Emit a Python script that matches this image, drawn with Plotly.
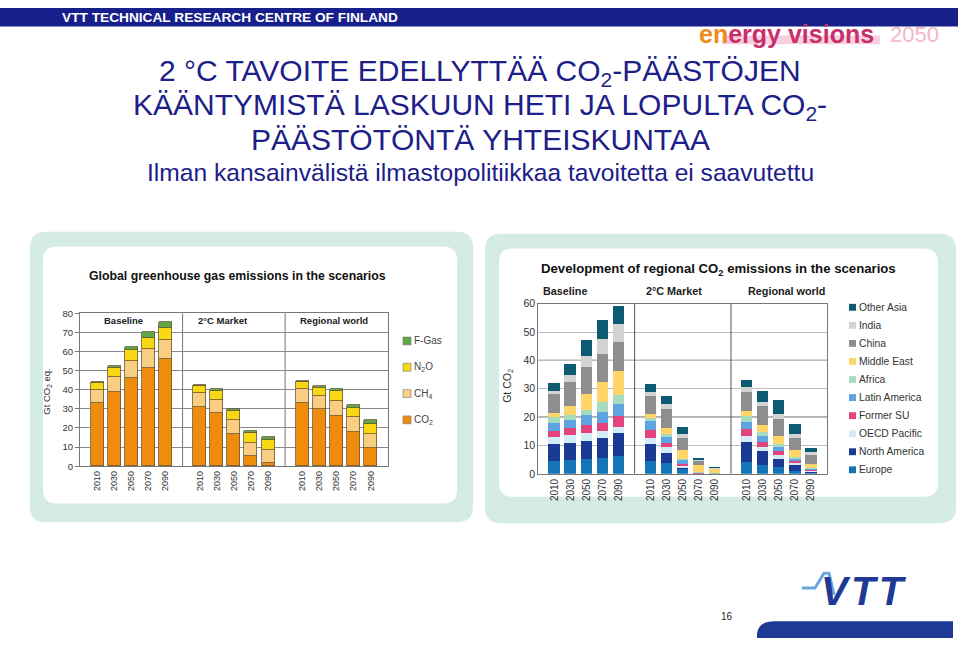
import plotly.graph_objects as go

# ---------------- data ----------------
scenarios = ["Baseline", "2°C Market", "Regional world"]
years = ["2010", "2030", "2050", "2070", "2090"]

# Left chart: global GHG emissions (Gt CO2 eq.)
ghg_names = ["CO<sub>2</sub>", "CH<sub>4</sub>", "N<sub>2</sub>O", "F-Gas"]
co2 = [33.0, 38.6, 46.0, 51.5, 56.0, 31.0, 27.8, 17.0, 5.2, 1.5, 33.2, 29.6, 26.0, 17.9, 9.4]
ch4 = [7.0, 8.1, 8.9, 9.7, 9.8, 7.0, 6.9, 7.0, 7.0, 6.7, 7.0, 6.8, 7.8, 7.7, 7.3]
n2o = [3.3, 4.4, 5.8, 5.6, 6.3, 3.6, 4.6, 5.0, 5.1, 5.5, 3.5, 4.4, 5.2, 4.8, 5.2]
fgas = [0.8, 1.2, 1.7, 3.3, 3.1, 0.9, 1.0, 1.0, 1.1, 1.3, 0.9, 1.1, 1.2, 1.6, 2.0]

# Right chart: regional CO2 emissions (Gt CO2), bottom to top
region_names = ["Europe", "North America", "OECD Pacific", "Former SU", "Latin America",
                "Africa", "Middle East", "China", "India", "Other Asia"]
europe = [4.6, 5.0, 5.3, 5.8, 6.3, 4.6, 3.8, 1.7, 0.2, 0.1, 4.4, 3.2, 2.5, 1.2, 0.5]
north_america = [6.0, 6.0, 6.5, 6.9, 8.1, 6.0, 3.7, 0.8, 0.1, 0.05, 6.9, 4.9, 3.0, 2.3, 0.6]
oecd_pacific = [2.4, 2.8, 2.6, 2.5, 2.3, 2.3, 2.0, 0.7, 0.1, 0.0, 2.2, 1.4, 1.4, 0.5, 0.3]
former_su = [2.2, 2.4, 3.1, 2.9, 3.7, 2.7, 1.5, 0.5, 0.1, 0.0, 2.4, 1.7, 1.2, 0.5, 0.2]
latin_america = [3.0, 3.0, 3.2, 3.8, 4.4, 3.1, 2.0, 1.4, 0.2, 0.1, 2.6, 2.1, 1.6, 1.0, 0.4]
africa = [1.9, 1.8, 2.0, 3.5, 3.1, 1.1, 1.1, 0.4, 0.1, 0.1, 2.0, 1.5, 0.9, 0.4, 0.3]
middle_east = [1.6, 3.2, 5.4, 7.1, 8.4, 1.5, 2.3, 2.9, 2.5, 1.6, 1.8, 2.7, 2.9, 2.7, 1.4]
china = [6.5, 8.3, 9.7, 10.0, 10.4, 6.4, 6.7, 4.3, 1.5, 0.2, 6.8, 6.5, 6.1, 4.2, 2.9]
india = [1.2, 2.3, 3.9, 5.2, 6.4, 1.4, 1.7, 1.5, 0.4, 0.2, 1.5, 1.6, 1.7, 1.5, 1.2]
other_asia = [2.9, 3.9, 5.6, 6.5, 6.3, 2.6, 2.9, 2.5, 0.3, 0.05, 2.6, 3.7, 5.0, 3.3, 1.4]

# ---------------- styling ----------------
FONT = "Liberation Sans, Arial, sans-serif"
NAVY = "#1c2088"
ghg_colors = ["#ef8c0c", "#f9cd82", "#f8d814", "#5fa84a"]
region_colors = ["#1574b8", "#1b3a94", "#d4ecf7", "#e2457e", "#5fa3e0",
                 "#a6dcc0", "#fdd56a", "#8e8e8e", "#d3d3d3", "#0d5a73"]
MINT = "#d5ece6"

W, H = 960, 645
def X(v): return v / W
def Y(v): return 1 - v / H

def rrect(x0, y0, x1, y1, r):
    return (f"M {X(x0+r)},{Y(y0)} L {X(x1-r)},{Y(y0)} Q {X(x1)},{Y(y0)} {X(x1)},{Y(y0+r)} "
            f"L {X(x1)},{Y(y1-r)} Q {X(x1)},{Y(y1)} {X(x1-r)},{Y(y1)} "
            f"L {X(x0+r)},{Y(y1)} Q {X(x0)},{Y(y1)} {X(x0)},{Y(y1-r)} "
            f"L {X(x0)},{Y(y0+r)} Q {X(x0)},{Y(y0)} {X(x0+r)},{Y(y0)} Z")

# bar positions: 6 slots per scenario group, bars in slots 1..5
xpos = [g * 6 + i + 1 for g in range(len(scenarios)) for i in range(len(years))]
ticktext = years * len(scenarios)

fig = go.Figure()

for vals, name, col in zip([co2, ch4, n2o, fgas], ghg_names, ghg_colors):
    fig.add_trace(go.Bar(x=xpos, y=vals, name=name, width=0.76, xaxis="x", yaxis="y",
                         marker=dict(color=col, line=dict(color="#6b5530", width=0.8)),
                         showlegend=False))

region_series = [europe, north_america, oecd_pacific, former_su, latin_america,
                 africa, middle_east, china, india, other_asia]
for vals, name, col in zip(region_series, region_names, region_colors):
    fig.add_trace(go.Bar(x=xpos, y=vals, name=name, width=0.7, xaxis="x2", yaxis="y2",
                         marker=dict(color=col, line=dict(width=0)),
                         showlegend=False))

shapes = []
annotations = []

# panels
shapes.append(dict(type="path", path=rrect(30, 230, 473, 526, 16), xref="paper", yref="paper",
                   fillcolor=MINT, line=dict(width=0), layer="below"))
shapes.append(dict(type="path", path=rrect(43, 245, 457, 507, 14), xref="paper", yref="paper",
                   fillcolor="white", line=dict(width=0), layer="below"))
shapes.append(dict(type="path", path=rrect(485, 232, 956, 527, 16), xref="paper", yref="paper",
                   fillcolor=MINT, line=dict(width=0), layer="below"))
shapes.append(dict(type="path", path=rrect(499, 247, 938, 500, 14), xref="paper", yref="paper",
                   fillcolor="white", line=dict(width=0), layer="below"))

# header bar
shapes.append(dict(type="rect", xref="paper", yref="paper", x0=0, x1=X(958), y0=Y(21), y1=Y(2),
                   fillcolor="#17208a", line=dict(width=0)))
annotations.append(dict(text="<b>VTT TECHNICAL RESEARCH CENTRE OF FINLAND</b>", x=X(60), y=Y(12),
                        xref="paper", yref="paper", xanchor="left", yanchor="middle", showarrow=False,
                        font=dict(family=FONT, size=13.7, color="white")))

# energy visions logo
shapes.append(dict(type="rect", xref="paper", yref="paper", x0=X(722), x1=X(880), y0=Y(39), y1=Y(30),
                   fillcolor="#f9cfdf", line=dict(width=0), layer="below"))
annotations.append(dict(text='<b><span style="color:#f08a1c">en</span><span style="color:#c8306a">ergy visions</span></b>',
                        x=X(697), y=Y(29), xref="paper", yref="paper", xanchor="left", yanchor="middle",
                        showarrow=False, font=dict(family=FONT, size=25)))
annotations.append(dict(text='2050', x=X(941), y=Y(29), xref="paper", yref="paper", xanchor="right",
                        yanchor="middle", showarrow=False, font=dict(family=FONT, size=22, color="#f3b6c8")))

# titles
title_lines = [
    ("2 °C TAVOITE EDELLYTTÄÄ CO<sub>2</sub>-PÄÄSTÖJEN", 68, 30),
    ("KÄÄNTYMISTÄ LASKUUN HETI JA LOPULTA CO<sub>2</sub>-", 102, 30),
    ("PÄÄSTÖTÖNTÄ YHTEISKUNTAA", 136, 30),
    ("Ilman kansainvälistä ilmastopolitiikkaa tavoitetta ei saavutettu", 170, 24.6),
]
for txt, yy, sz in title_lines:
    annotations.append(dict(text=txt, x=0.5, y=Y(yy), xref="paper", yref="paper", xanchor="center",
                            yanchor="middle", showarrow=False, font=dict(family=FONT, size=sz, color=NAVY)))

# chart titles
annotations.append(dict(text="<b>Global greenhouse gas emissions in the scenarios</b>", x=X(237.5), y=Y(275),
                        xref="paper", yref="paper", xanchor="center", yanchor="middle", showarrow=False,
                        font=dict(family=FONT, size=12.3, color="#111")))
annotations.append(dict(text="<b>Development of regional CO<sub>2</sub> emissions in the scenarios</b>",
                        x=X(718.5), y=Y(269), xref="paper", yref="paper", xanchor="center", yanchor="middle",
                        showarrow=False, font=dict(family=FONT, size=13.2, color="#111")))

# left scenario labels (inside plot top band)
for g, s in enumerate(scenarios):
    annotations.append(dict(text=f"<b>{s}</b>", x=[2.53, 8.36, 14.85][g], y=76.3, xref="x", yref="y",
                            xanchor="center", yanchor="middle", showarrow=False,
                            font=dict(family=FONT, size=9.5, color="#222")))
# right scenario labels (above plot)
for g, s in enumerate(scenarios):
    annotations.append(dict(text=f"<b>{s}</b>", x=X([541, 644, 745.5][g]), y=Y(290), xref="paper",
                            yref="paper", xanchor="left", yanchor="middle", showarrow=False,
                            font=dict(family=FONT, size=10.8, color="#222")))

# separators
for sx in (6, 12):
    shapes.append(dict(type="line", xref="x", yref="y", x0=sx, x1=sx, y0=0, y1=80,
                       line=dict(color="#777", width=1)))
    shapes.append(dict(type="line", xref="x2", yref="y2", x0=sx, x1=sx, y0=0, y1=60,
                       line=dict(color="#555", width=1)))
# darker gridlines right chart
for gy in (20, 40):
    shapes.append(dict(type="line", xref="x2", yref="y2", x0=0, x1=18, y0=gy, y1=gy,
                       line=dict(color="#666", width=1.2), layer="below"))

# axis titles
annotations.append(dict(text="Gt CO<sub>2</sub> eq.", x=X(47), y=Y(393), xref="paper", yref="paper",
                        textangle=-90, xanchor="center", yanchor="middle", showarrow=False,
                        font=dict(family=FONT, size=9.5, color="#333")))
annotations.append(dict(text="Gt CO<sub>2</sub>", x=X(508), y=Y(387), xref="paper", yref="paper",
                        textangle=-90, xanchor="center", yanchor="middle", showarrow=False,
                        font=dict(family=FONT, size=10.5, color="#333")))

# left legend (top to bottom: F-Gas, N2O, CH4, CO2)
for k, idx in enumerate([3, 2, 1, 0]):
    yy = 341.3 + k * 26.8
    shapes.append(dict(type="rect", xref="paper", yref="paper", x0=X(403), x1=X(411),
                       y0=Y(yy + 4), y1=Y(yy - 4), fillcolor=ghg_colors[idx],
                       line=dict(color="#777", width=0.6)))
    annotations.append(dict(text=ghg_names[idx], x=X(412), y=Y(yy), xref="paper", yref="paper",
                            xanchor="left", yanchor="middle", showarrow=False,
                            font=dict(family=FONT, size=10, color="#444")))

# right legend (top to bottom: Other Asia ... Europe)
for k in range(len(region_names)):
    idx = len(region_names) - 1 - k
    yy = 307 + k * 18.4
    shapes.append(dict(type="rect", xref="paper", yref="paper", x0=X(849), x1=X(856),
                       y0=Y(yy + 3.5), y1=Y(yy - 3.5), fillcolor=region_colors[idx], line=dict(width=0)))
    annotations.append(dict(text=region_names[idx], x=X(856.5), y=Y(yy), xref="paper", yref="paper",
                            xanchor="left", yanchor="middle", showarrow=False,
                            font=dict(family=FONT, size=10.3, color="#333")))

# VTT logo
shapes.append(dict(type="path", xref="paper", yref="paper",
                   path=f"M {X(802)},{Y(593)} L {X(815)},{Y(593)} L {X(824)},{Y(578)} L {X(829)},{Y(578)} L {X(834)},{Y(600)}",
                   line=dict(color="#6aa6de", width=3)))
annotations.append(dict(text="<b><i>V&#8202;T&#8202;T</i></b>", x=X(864), y=Y(596), xref="paper", yref="paper",
                        xanchor="center", yanchor="middle", showarrow=False,
                        font=dict(family=FONT, size=40, color="#1e3a94")))
shapes.append(dict(type="path", xref="paper", yref="paper",
                   path=f"M {X(757)},{Y(644)} L {X(757)},{Y(640)} Q {X(758)},{Y(627)} {X(775)},{Y(627)} "
                        f"L {X(953)},{Y(627)} L {X(953)},{Y(644)} Z",
                   fillcolor="#1e3a94", line=dict(width=0)))
annotations.append(dict(text="16", x=X(727), y=Y(622), xref="paper", yref="paper", xanchor="center",
                        yanchor="middle", showarrow=False, font=dict(family=FONT, size=10, color="#222")))

axis_common = dict(showline=True, linecolor="#777", linewidth=1, mirror=True, zeroline=False)

fig.update_layout(
    width=W, height=H, margin=dict(l=0, r=0, t=0, b=0),
    paper_bgcolor="white", plot_bgcolor="white",
    barmode="stack", bargap=0,
    font=dict(family=FONT, color="#333"),
    showlegend=False,
    xaxis=dict(domain=[X(80), X(387.7)], range=[0, 18], tickvals=xpos, ticktext=ticktext,
               tickangle=-90, tickfont=dict(size=9, color="#333"), showgrid=False, ticks="",
               anchor="y", **axis_common),
    yaxis=dict(domain=[Y(469), Y(313)], range=[0, 80], dtick=10, showgrid=True, gridcolor="#8a8a8a",
               gridwidth=1, ticks="outside", ticklen=4, tickcolor="#777",
               tickfont=dict(size=9.5, color="#333"), anchor="x", **axis_common),
    xaxis2=dict(domain=[X(538.3), X(827.3)], range=[0, 18], tickvals=xpos, ticktext=ticktext,
                tickangle=-90, tickfont=dict(size=10, color="#333"), showgrid=False, ticks="",
                anchor="y2", **axis_common),
    yaxis2=dict(domain=[Y(476.7), Y(303.3)], range=[0, 60], dtick=10, showgrid=True, gridcolor="#bdbdbd",
                gridwidth=1, ticks="", tickfont=dict(size=10.5, color="#333"), anchor="x2",
                **axis_common),
    shapes=shapes, annotations=annotations,
)

fig.write_html("out.html")
